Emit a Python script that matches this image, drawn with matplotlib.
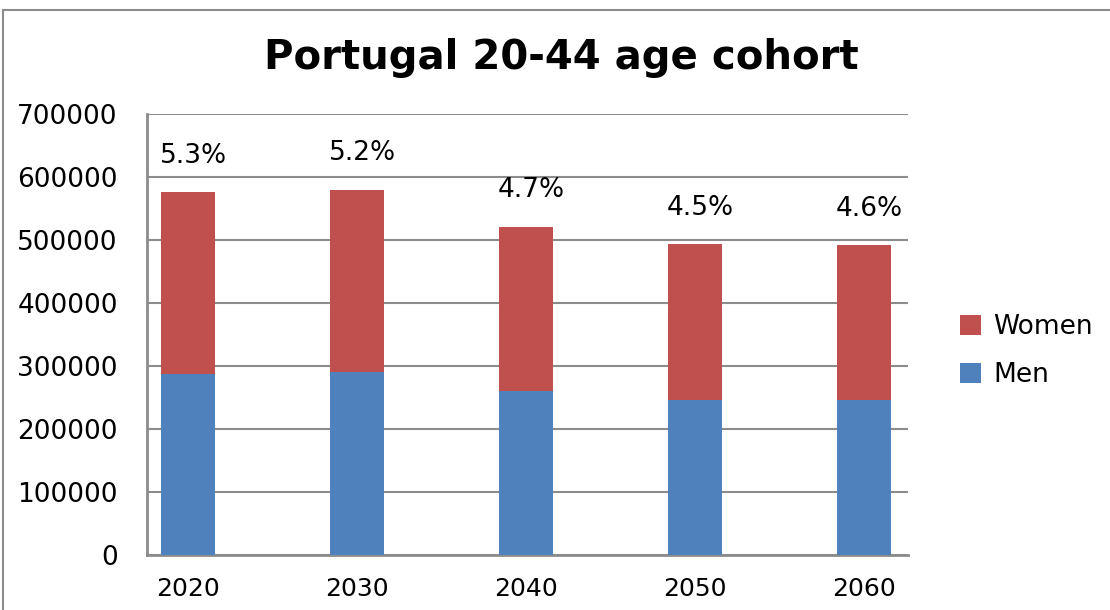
import numpy as np
import matplotlib
matplotlib.use('Agg')
from matplotlib import pyplot as plt
from matplotlib.patches import Rectangle

# data
years = ['2020', '2030', '2040', '2050', '2060']
men = [288000, 290000, 260000, 246000, 245500]
women = [288000, 290000, 261000, 247000, 246500]
shares = ['5.3%', '5.2%', '4.7%', '4.5%', '4.6%']

men_col = '#4F81BD'
women_col = '#C0504D'
grid_col = '#8C8C8C'

fig = plt.figure(figsize=(11.1, 6.1), dpi=100)
ax = fig.add_axes([147/1110, 55/610, (908-147)/1110, (555-114)/610])

x = np.arange(len(years))
w = 0.32
ax.bar(x, men, w, color=men_col, label='Men', zorder=3)
ax.bar(x, women, w, bottom=men, color=women_col, label='Women', zorder=3)

totals = np.array(men) + np.array(women)
for xi, t, s in zip(x, totals, shares):
    ax.text(xi + 0.03, t + 58000, s, ha='center', va='center', fontsize=19)

ax.set_ylim(0, 700000)
ax.set_yticks(np.arange(0, 700001, 100000))
ax.set_xlim(-0.243, 4.26)
ax.set_xticks(x)
ax.set_xticklabels(years)
ax.grid(axis='y', color=grid_col, lw=1.5, zorder=0)
ax.set_axisbelow(True)
for s in ['top', 'right']:
    ax.spines[s].set_visible(False)
for s in ['left', 'bottom']:
    ax.spines[s].set_color(grid_col)
    ax.spines[s].set_linewidth(2)
ax.tick_params(axis='y', length=0, pad=21, labelsize=19)
ax.tick_params(axis='x', length=0, pad=16, labelsize=18)

h, l = ax.get_legend_handles_labels()
fig.legend(h[::-1], l[::-1], loc='center left', bbox_to_anchor=(960/1110, 1 - 351/610),
           frameon=False, fontsize=19, handlelength=0.8, handleheight=0.8,
           handletextpad=0.45, labelspacing=0.85, borderpad=0, borderaxespad=0)

fig.text(561/1110, 1 - 58/610, 'Portugal 20-44 age cohort', ha='center', va='center',
         fontsize=29, fontweight='bold')

# outer chart border
fig.add_artist(Rectangle((3/1110, -0.1), 1.2, 1 - 10/610 + 0.1, transform=fig.transFigure,
                         fill=False, edgecolor=grid_col, lw=1.5))

fig.savefig('out.png', dpi=100)
